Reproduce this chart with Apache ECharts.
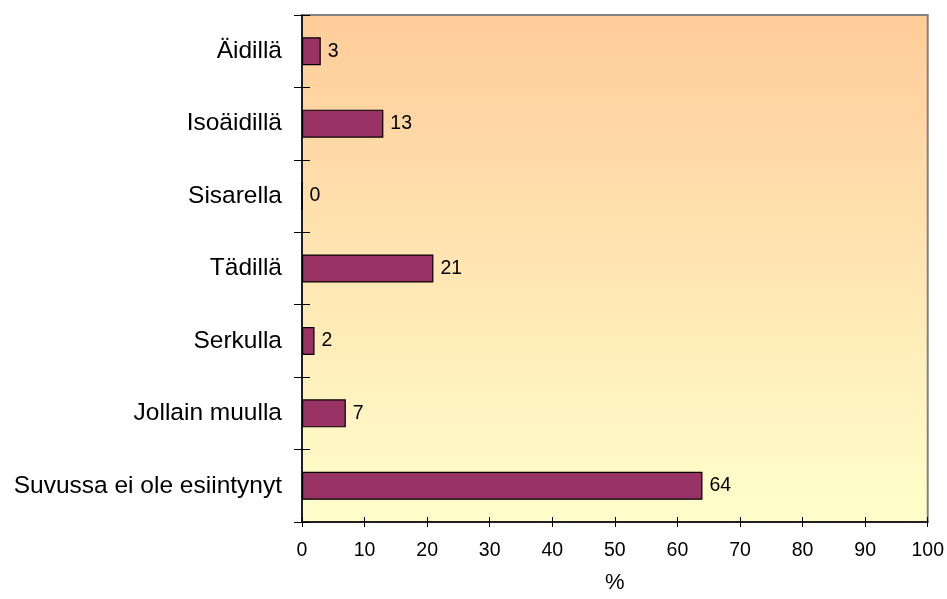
<!DOCTYPE html>
<html>
<head>
<meta charset="utf-8">
<script src="https://cdn.jsdelivr.net/npm/echarts@6/dist/echarts.min.js"></script>
<style>
  html, body { margin: 0; padding: 0; background: #ffffff; }
  #chart { width: 947px; height: 599px; }
</style>
</head>
<body>
<div id="chart"></div>
<script>
// Categories, top to bottom
const categories = ['Äidillä', 'Isoäidillä', 'Sisarella', 'Tädillä', 'Serkulla', 'Jollain muulla', 'Suvussa ei ole esiintynyt'];
// Share of respondents, %
const values = [3, 13, 0, 21, 2, 7, 64];
// Value axis ticks
const axisMin = 0;
const axisMax = 100;
const axisStep = 10;
const axisName = '%';

const FONT = '"Liberation Sans", Arial, sans-serif';

const chart = echarts.init(document.getElementById('chart'));

const valueAxisBase = {
  type: 'value',
  min: axisMin,
  max: axisMax,
  interval: axisStep,
  splitLine: { show: false }
};

const catAxisBase = {
  type: 'category',
  data: categories,
  inverse: true,
  boundaryGap: true,
  splitLine: { show: false }
};

chart.setOption({
  animation: false,
  backgroundColor: '#ffffff',
  grid: {
    left: 302,
    top: 15,
    right: 18,
    bottom: 72,
    show: true,
    borderColor: '#808080',
    borderWidth: 2,
    backgroundColor: new echarts.graphic.LinearGradient(0, 0, 0, 1, [
      { offset: 0, color: '#FFCC99' },
      { offset: 1, color: '#FFFFCC' }
    ])
  },
  xAxis: [
    Object.assign({}, valueAxisBase, {
      position: 'bottom',
      name: axisName,
      nameLocation: 'middle',
      nameGap: 50,
      nameTextStyle: { color: '#000', fontSize: 22, fontFamily: FONT },
      axisLine: { show: true, lineStyle: { color: '#000', width: 1.5 } },
      axisTick: { show: true, length: 5, lineStyle: { color: '#000', width: 1 } },
      axisLabel: { color: '#000', fontSize: 19.5, fontFamily: FONT, margin: 19 }
    }),
    // inner half of the crossing ticks
    Object.assign({}, valueAxisBase, {
      position: 'bottom',
      axisLine: { show: false },
      axisTick: { show: true, inside: true, length: 5, lineStyle: { color: '#000', width: 1 } },
      axisLabel: { show: false }
    })
  ],
  yAxis: [
    Object.assign({}, catAxisBase, {
      position: 'left',
      axisLine: { show: true, lineStyle: { color: '#000', width: 1.5 } },
      axisTick: { show: true, length: 8, lineStyle: { color: '#000', width: 1 } },
      axisLabel: { color: '#000', fontSize: 24.5, fontFamily: FONT, margin: 20 }
    }),
    // inner half of the crossing ticks
    Object.assign({}, catAxisBase, {
      position: 'left',
      axisLine: { show: false },
      axisTick: { show: true, inside: true, length: 8, lineStyle: { color: '#000', width: 1 } },
      axisLabel: { show: false }
    })
  ],
  series: [{
    type: 'bar',
    xAxisIndex: 0,
    yAxisIndex: 0,
    data: values,
    barWidth: 28,
    itemStyle: { color: '#993366', borderColor: '#000', borderWidth: 1.2 },
    label: {
      show: true,
      position: 'right',
      distance: 7,
      color: '#000',
      fontSize: 19.5,
      fontFamily: FONT
    }
  }]
});
</script>
</body>
</html>
